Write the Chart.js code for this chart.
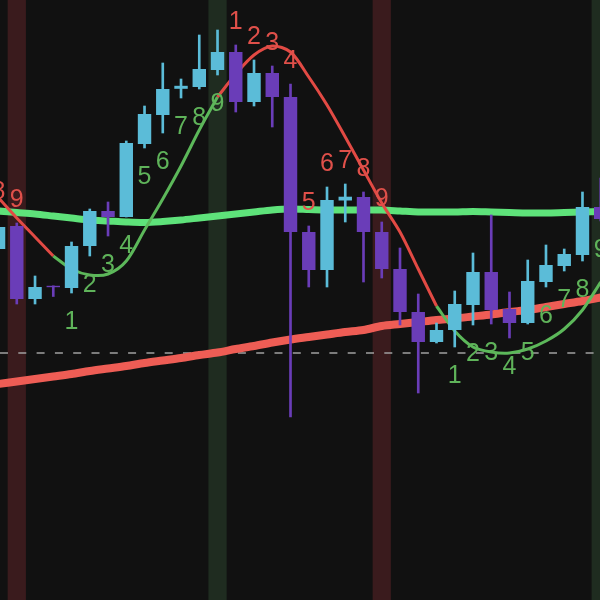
<!DOCTYPE html>
<html>
<head>
<meta charset="utf-8">
<script src="https://cdn.jsdelivr.net/npm/chart.js@4"></script>
<style>
html, body { margin: 0; padding: 0; background: #111111; }
#wrap { width: 600px; height: 600px; }
</style>
</head>
<body>
<div id="wrap"><canvas id="tdChart" width="600" height="600"></canvas></div>
<script>
// candle prices (one entry per bar)
const opens  = [135.1, 137.4, 130.1, 131.42, 131.2, 135.4, 138.9, 138.3, 145.6, 148.5, 151.12, 151.3, 153.0, 154.8, 149.8, 152.7, 150.3, 136.8, 133.0, 139.95, 140.3, 136.8, 133.1, 128.8, 125.8, 127.0, 129.5, 132.8, 129.1, 127.7, 131.8, 133.4, 134.5, 139.3];
const highs  = [138.5, 137.7, 132.4, 131.42, 135.8, 139.1, 139.8, 145.9, 149.4, 153.7, 152.1, 156.5, 157.0, 155.5, 154.0, 153.4, 151.6, 137.4, 141.3, 141.6, 140.8, 137.8, 135.2, 130.6, 127.7, 130.9, 134.7, 138.5, 130.8, 134.0, 135.5, 135.1, 140.8, 142.2];
const lows   = [134.8, 129.6, 129.6, 130.35, 130.7, 134.4, 136.4, 138.3, 145.2, 146.7, 150.2, 151.1, 152.5, 148.8, 149.4, 147.3, 118.3, 131.3, 131.3, 137.8, 131.8, 132.2, 127.5, 120.7, 125.7, 125.3, 127.5, 127.6, 126.2, 127.6, 131.3, 132.9, 133.9, 137.9];
const closes = [137.3, 130.1, 131.3, 131.28, 135.4, 138.9, 138.3, 145.7, 148.6, 151.1, 151.42, 153.1, 154.8, 149.8, 152.7, 150.3, 136.8, 133.0, 140.0, 140.33, 136.8, 133.1, 128.8, 125.8, 127.0, 129.6, 132.8, 129.0, 127.7, 131.9, 133.5, 134.6, 139.3, 138.1];

// moving averages
const fastMA = [138.9, 138.75, 138.6, 138.4, 138.2, 138.0, 137.9, 137.8, 137.75, 137.85, 138.0, 138.2, 138.4, 138.6, 138.8, 139.0, 139.1, 139.05, 139.0, 139.0, 139.0, 139.0, 138.9, 138.8, 138.8, 138.8, 138.85, 138.8, 138.75, 138.7, 138.7, 138.75, 138.8, 138.85];
const slowMA = [121.6, 121.85, 122.1, 122.35, 122.6, 122.9, 123.15, 123.4, 123.7, 123.95, 124.2, 124.5, 124.75, 125.1, 125.4, 125.75, 126.05, 126.3, 126.55, 126.8, 127.0, 127.4, 127.6, 127.8, 128.0, 128.15, 128.35, 128.55, 128.8, 129.0, 129.3, 129.6, 129.9, 130.25];

// trend curve, coloured by state
const trendLine = [140.2, 138.2, 136.3, 134.4, 133.1, 132.5, 132.6, 133.9, 137.0, 140.1, 143.4, 147.0, 150.3, 152.6, 154.5, 155.4, 154.8, 152.3, 149.5, 146.3, 143.0, 139.7, 136.8, 133.1, 129.4, 126.9, 125.3, 124.8, 124.7, 125.1, 125.9, 127.1, 129.0, 131.8];
const trendState = ['dn','dn','dn','up','up','up','up','up','up','up','up','up','dn','dn','dn','dn','dn','dn','dn','dn','dn','dn','dn','dn','up','up','up','up','up','up','up','up','up','up'];

// TD setup counts
const sellCount = [8, 9, null, null, null, null, null, null, null, null, null, null, null, 1, 2, 3, 4, 5, 6, 7, 8, 9, null, null, null, null, null, null, null, null, null, null, null, null];
const buyCount  = [null, null, null, null, 1, 2, 3, 4, 5, 6, 7, 8, 9, null, null, null, null, null, null, null, null, null, null, null, null, 1, 2, 3, 4, 5, 6, 7, 8, 9];
const sellBands = [1, 21];
const buyBands  = [12, 33];
const refLevel = 124.7;

const bars = opens.map((_, i) => i);
const UP = '#5bbcd8', DOWN = '#6a3db8';
const candleColor = ctx => closes[ctx.dataIndex] >= opens[ctx.dataIndex] ? UP : DOWN;

// one piece of the trend curve; the point where the state flips is shared
function trendPiece(state) {
  return bars.map(i => {
    const on = trendState[i] === state || (i > 0 && trendState[i - 1] === state);
    return { x: i, y: on ? trendLine[i] : null };
  });
}

const overlay = {
  id: 'overlay',
  beforeDatasetsDraw(chart) {
    const { ctx, chartArea, scales: { x, y } } = chart;
    ctx.save();
    const band = (i, color) => {
      const l = x.getPixelForValue(i - 0.5), r = x.getPixelForValue(i + 0.5);
      ctx.fillStyle = color;
      ctx.fillRect(l, chartArea.top, r - l, chartArea.bottom - chartArea.top);
    };
    sellBands.forEach(i => band(i, '#3a1b1d'));
    buyBands.forEach(i => band(i, '#1f2c20'));
    const yy = y.getPixelForValue(refLevel);
    ctx.setLineDash([8, 10.3]);
    ctx.strokeStyle = '#a0a0a0';
    ctx.lineWidth = 1.5;
    ctx.beginPath();
    ctx.moveTo(chartArea.left, yy);
    ctx.lineTo(chartArea.right, yy);
    ctx.stroke();
    ctx.restore();
  },
  afterDatasetsDraw(chart) {
    const { ctx, scales: { x, y } } = chart;
    ctx.save();
    ctx.font = '25px "Liberation Sans", Arial, sans-serif';
    ctx.textAlign = 'center';
    ctx.textBaseline = 'alphabetic';
    bars.forEach(i => {
      const px = x.getPixelForValue(i);
      if (sellCount[i] != null) {
        ctx.fillStyle = '#e0504a';
        ctx.fillText(String(sellCount[i]), px, y.getPixelForValue(highs[i]) - 16);
      }
      if (buyCount[i] != null) {
        ctx.fillStyle = '#5fb35a';
        ctx.fillText(String(buyCount[i]), px, y.getPixelForValue(lows[i]) + 36);
      }
    });
    ctx.restore();
  }
};

new Chart(document.getElementById('tdChart').getContext('2d'), {
  type: 'bar',
  data: {
    datasets: [
      {
        type: 'line', label: 'Slow MA', order: 5,
        data: bars.map(i => ({ x: i, y: slowMA[i] })),
        borderColor: '#ee5d55', borderWidth: 8, pointRadius: 0, tension: 0.3
      },
      {
        type: 'line', label: 'Fast MA', order: 4,
        data: bars.map(i => ({ x: i, y: fastMA[i] })),
        borderColor: '#5ee27a', borderWidth: 7, pointRadius: 0, tension: 0.3
      },
      {
        type: 'line', label: 'Trend down', order: 3,
        data: trendPiece('dn'),
        borderColor: '#e24a44', borderWidth: 3, pointRadius: 0, tension: 0.3, spanGaps: false
      },
      {
        type: 'line', label: 'Trend up', order: 3,
        data: trendPiece('up'),
        borderColor: '#5cb85a', borderWidth: 3, pointRadius: 0, tension: 0.3, spanGaps: false
      },
      {
        label: 'Wicks', order: 2, grouped: false,
        data: bars.map(i => ({ x: i, y: [lows[i], highs[i]] })),
        backgroundColor: candleColor, barThickness: 2
      },
      {
        label: 'Bodies', order: 1, grouped: false,
        data: bars.map(i => ({ x: i, y: [opens[i], closes[i]] })),
        backgroundColor: candleColor, barPercentage: 0.92, categoryPercentage: 0.8
      }
    ]
  },
  options: {
    responsive: false,
    animation: false,
    layout: { padding: 0 },
    plugins: { legend: { display: false }, tooltip: { enabled: false } },
    scales: {
      x: { type: 'linear', min: 0.08, max: 32.96, offset: false, display: false },
      y: { min: 100, max: 160, display: false }
    }
  },
  plugins: [overlay]
});
</script>
</body>
</html>
